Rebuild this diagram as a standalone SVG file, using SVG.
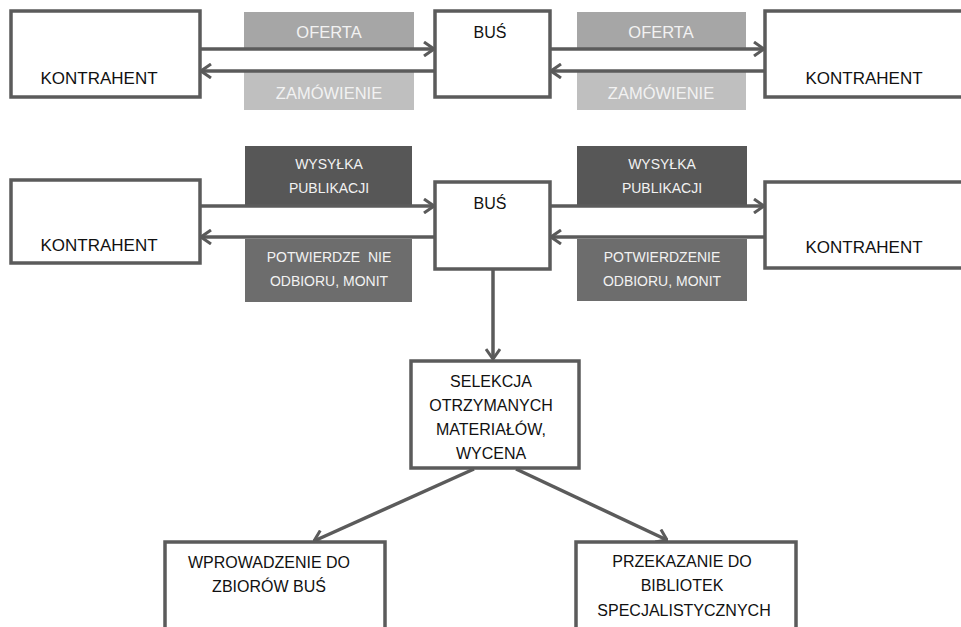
<svg xmlns="http://www.w3.org/2000/svg" width="961" height="627" viewBox="0 0 961 627">
<defs>
<style>
.box{fill:#ffffff;stroke:#5b5b5b;stroke-width:3.5}
.conn{fill:none;stroke:#5b5b5b;stroke-width:3.5}
.t{font-family:"Liberation Sans",Arial,sans-serif;font-size:16px;fill:#111111;text-anchor:middle}
.k{font-size:17px}
.lt{font-family:"Liberation Sans",Arial,sans-serif;font-size:16.5px;fill:#f2f2f2;text-anchor:middle}
.st{font-family:"Liberation Sans",Arial,sans-serif;font-size:14px;fill:#f2f2f2;text-anchor:middle}
</style>
<marker id="arr" viewBox="0 0 12 16" markerWidth="12" markerHeight="16" refX="11" refY="8" orient="auto" markerUnits="userSpaceOnUse">
<path d="M1,1 L11,8 L1,15" fill="none" stroke="#5b5b5b" stroke-width="3"/>
</marker>
</defs>
<rect width="961" height="627" fill="#ffffff"/>

<g id="label-oferta-1"><rect x="244" y="12" width="170" height="37" fill="#a6a6a6"/><text class="lt" x="329" y="38">OFERTA</text></g>
<g id="label-zamowienie-1"><rect x="244" y="72" width="170" height="38" fill="#bfbfbf"/><text class="lt" x="329" y="99">ZAMÓWIENIE</text></g>
<g id="label-oferta-2"><rect x="577" y="12" width="169" height="37" fill="#a6a6a6"/><text class="lt" x="661" y="38">OFERTA</text></g>
<g id="label-zamowienie-2"><rect x="577" y="72" width="169" height="38" fill="#bfbfbf"/><text class="lt" x="661" y="99">ZAMÓWIENIE</text></g>

<g id="label-wysylka-1"><rect x="245" y="146" width="167" height="59" fill="#575757"/><text class="st" x="329" y="169">WYSYŁKA</text><text class="st" x="329" y="193">PUBLIKACJI</text></g>
<g id="label-potw-1"><rect x="245" y="239" width="167" height="63" fill="#6d6d6d"/><text class="st" x="329" y="262" xml:space="preserve">POTWIERDZE  NIE</text><text class="st" x="329" y="286">ODBIORU, MONIT</text></g>
<g id="label-wysylka-2"><rect x="577" y="146" width="170" height="59" fill="#575757"/><text class="st" x="662" y="169">WYSYŁKA</text><text class="st" x="662" y="193">PUBLIKACJI</text></g>
<g id="label-potw-2"><rect x="577" y="239" width="170" height="62" fill="#6d6d6d"/><text class="st" x="662" y="262">POTWIERDZENIE</text><text class="st" x="662" y="286">ODBIORU, MONIT</text></g>

<g id="connectors">
<line class="conn" x1="200" y1="49" x2="434" y2="49" marker-end="url(#arr)"/>
<line class="conn" x1="434" y1="71" x2="201" y2="71" marker-end="url(#arr)"/>
<line class="conn" x1="550" y1="49" x2="764" y2="49" marker-end="url(#arr)"/>
<line class="conn" x1="764" y1="71" x2="551" y2="71" marker-end="url(#arr)"/>
<line class="conn" x1="200" y1="206" x2="434" y2="206" marker-end="url(#arr)"/>
<line class="conn" x1="434" y1="237" x2="201" y2="237" marker-end="url(#arr)"/>
<line class="conn" x1="550" y1="206" x2="764" y2="206" marker-end="url(#arr)"/>
<line class="conn" x1="764" y1="237" x2="551" y2="237" marker-end="url(#arr)"/>
<line class="conn" x1="493" y1="269" x2="493" y2="359" marker-end="url(#arr)"/>
<line class="conn" x1="474" y1="469" x2="314" y2="541" marker-end="url(#arr)"/>
<line class="conn" x1="516" y1="469" x2="667" y2="540" marker-end="url(#arr)"/>
</g>

<g id="kontrahent-1"><rect class="box" x="11" y="11" width="189" height="86"/><text class="t k" x="99" y="84">KONTRAHENT</text></g>
<g id="bus-1"><rect class="box" x="435" y="11" width="115" height="86"/><text class="t" x="490" y="38">BUŚ</text></g>
<g id="kontrahent-2"><rect class="box" x="765" y="11" width="220" height="86"/><text class="t k" x="864" y="84">KONTRAHENT</text></g>

<g id="kontrahent-3"><rect class="box" x="11" y="180" width="189" height="83"/><text class="t k" x="99" y="251">KONTRAHENT</text></g>
<g id="bus-2"><rect class="box" x="435" y="182" width="115" height="87"/><text class="t" x="490" y="209">BUŚ</text></g>
<g id="kontrahent-4"><rect class="box" x="765" y="182" width="220" height="86"/><text class="t k" x="864" y="253">KONTRAHENT</text></g>

<g id="selekcja"><rect class="box" x="411" y="361" width="168" height="107"/><text class="t" x="491" y="387">SELEKCJA</text><text class="t" x="491" y="411">OTRZYMANYCH</text><text class="t" x="491" y="435">MATERIAŁÓW,</text><text class="t" x="491" y="459">WYCENA</text></g>

<g id="wprowadzenie"><rect class="box" x="165" y="542" width="220" height="110"/><text class="t" x="269" y="568">WPROWADZENIE DO</text><text class="t" x="269" y="592">ZBIORÓW BUŚ</text></g>
<g id="przekazanie"><rect class="box" x="576" y="542" width="220" height="110"/><text class="t" x="682" y="567">PRZEKAZANIE DO</text><text class="t" x="682" y="591">BIBLIOTEK</text><text class="t" x="684" y="616">SPECJALISTYCZNYCH</text></g>
</svg>
